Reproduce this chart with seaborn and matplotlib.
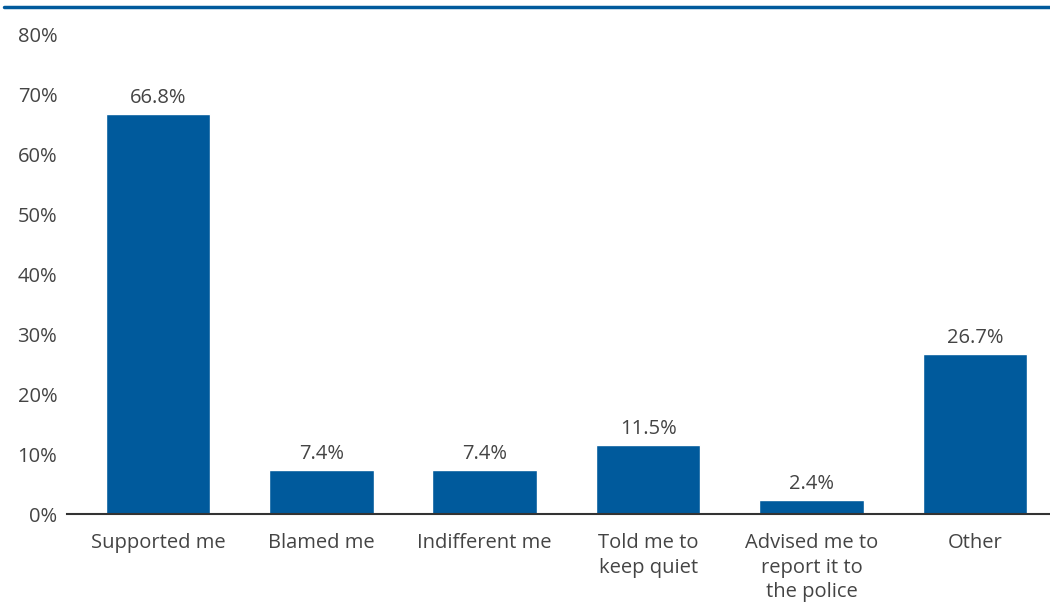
import matplotlib
matplotlib.use("Agg")
import matplotlib.pyplot as plt
from matplotlib.lines import Line2D
import seaborn as sns
import pandas as pd

categories = ["Supported me", "Blamed me", "Indifferent me", "Told me to\nkeep quiet",
              "Advised me to\nreport it to\nthe police", "Other"]
values = [66.8, 7.4, 7.4, 11.5, 2.4, 26.7]
y_ticks = [0, 10, 20, 30, 40, 50, 60, 70, 80]

BLUE = "#005a9c"
TEXT = "#444444"
FS = 14.5

sns.set_theme(style="white")
plt.rcParams["font.family"] = ["Open Sans", "DejaVu Sans"]

df = pd.DataFrame({"category": categories, "value": values})

fig = plt.figure(figsize=(10.5, 6.09), dpi=100)
ax = fig.add_axes([67 / 1050, 95 / 609, 1 - 67 / 1050, (574 - 95) / 609])

sns.barplot(data=df, x="category", y="value", color=BLUE, saturation=1,
            width=0.64, ax=ax)

for i, v in enumerate(values):
    ax.text(i, v + 1.0, f"{v:.1f}%", ha="center", va="bottom",
            fontsize=FS, color=TEXT)

ax.set_xlim(-0.557, 5.46)
ax.set_ylim(0, 80)
ax.set_yticks(y_ticks)
ax.set_yticklabels([f"{t}%" for t in y_ticks])
ax.set_xlabel("")
ax.set_ylabel("")

for s in ["top", "right", "left"]:
    ax.spines[s].set_visible(False)
ax.spines["bottom"].set_color("#333333")
ax.spines["bottom"].set_linewidth(1.5)

ax.tick_params(axis="both", length=0, labelsize=FS, labelcolor=TEXT)
ax.tick_params(axis="y", pad=7)
ax.tick_params(axis="x", pad=14)
for lbl in ax.get_xticklabels():
    lbl.set_ha("center")
    lbl.set_linespacing(1.3)

# blue rule across the top of the figure
fig.add_artist(Line2D([4 / 1050, 1.0], [1 - 7 / 609, 1 - 7 / 609],
                      color=BLUE, linewidth=2.5, transform=fig.transFigure))

fig.savefig("out.png", dpi=100)
